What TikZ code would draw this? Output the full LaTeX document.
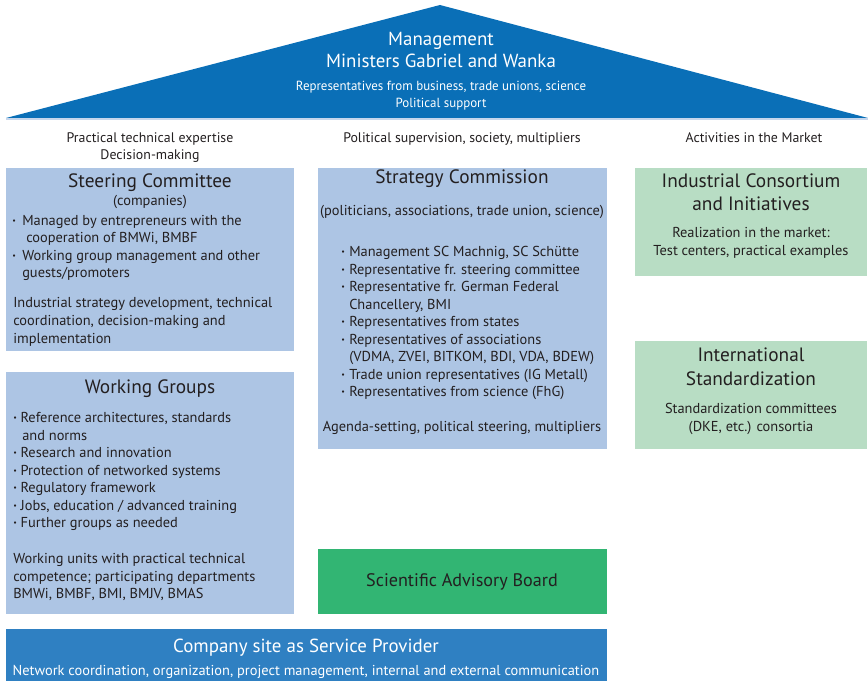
\documentclass[tikz,border=0pt]{standalone}
\usepackage{fontspec}
\setmainfont{PT Sans}
\definecolor{roofblue}{HTML}{0A6FB7}
\definecolor{paleblue}{HTML}{ADC5E4}
\definecolor{palegreen}{HTML}{B8DDC4}
\definecolor{boardgreen}{HTML}{32B573}
\definecolor{baseblue}{HTML}{2F80C2}
\definecolor{ink}{HTML}{231F20}

\newcounter{ln}
% one text line: style, x, y, content
\newcommand\tline[4]{\stepcounter{ln}\node[#1] (t\theln) at (#2,#3) {#4};}
% bullet mark in a box of the given width
\newcommand\bul[1]{\makebox[#1][l]{\raisebox{0.25ex}{\scalebox{0.55}{•}}}}

\begin{document}
\begin{tikzpicture}[x=0.75pt,y=-0.75pt,
  body/.style={anchor=mid west,inner sep=0,yshift=-1.5pt,text=ink,font=\fontsize{10.8}{13}\selectfont},
  bodyc/.style={body,anchor=mid},
  small/.style={bodyc,font=\fontsize{9.9}{12}\selectfont},
  head/.style={bodyc,font=\fontsize{10.4}{12}\selectfont},
  title/.style={bodyc,font=\fontsize{14.5}{17}\selectfont},
  white/.style={text=white}]
\useasboundingbox (0,0) rectangle (868,681);

% roof
\fill[roofblue] (6,118) -- (440,5) -- (868,118) -- cycle;
\fill[paleblue!70] (6,118) rectangle (868,120);
\tline{title,white,font=\fontsize{14.2}{17}\selectfont}{441}{40}{Management}
\tline{title,white,font=\fontsize{14.2}{17}\selectfont}{441}{62}{Ministers Gabriel and Wanka}
\tline{small,white}{441}{85}{\scalebox{0.98}[1]{Representatives from business, trade unions, science}}
\tline{small,white}{441}{102}{\scalebox{0.98}[1]{Political support}}

% column headings
\tline{head}{150}{137}{Practical technical expertise}
\tline{head}{150}{154}{Decision-making}
\tline{head}{462}{137}{Political supervision, society, multipliers}
\tline{head}{754}{137}{Activities in the Market}

% panels
\fill[paleblue] (6,168) rectangle (294,351);
\fill[paleblue] (6,372) rectangle (294,614);
\fill[paleblue] (318,168) rectangle (607,449);
\fill[palegreen] (635,168) rectangle (867,276);
\fill[palegreen] (635,341) rectangle (867,449);
\fill[boardgreen] (318,549) rectangle (607,614);
\fill[baseblue] (6,629) rectangle (607,681);

% steering committee
\tline{title}{150}{182}{Steering Committee}
\tline{bodyc}{150}{200}{(companies)}
\tline{body}{12}{220}{\bul{7.5pt}Managed by entrepreneurs with the}
\tline{body}{26}{237}{cooperation of BMWi, BMBF}
\tline{body}{12}{255}{\bul{7.5pt}Working group management and other}
\tline{body}{22}{272}{guests/promoters}
\tline{body}{13}{302}{Industrial strategy development, technical}
\tline{body}{13}{320}{coordination, decision-making and}
\tline{body}{13}{338}{implementation}

% working groups
\tline{title}{150}{388}{Working Groups}
\tline{body}{13}{417}{\bul{5.5pt}Reference architectures, standards}
\tline{body}{22}{435}{and norms}
\tline{body}{13}{452}{\bul{5.5pt}Research and innovation}
\tline{body}{13}{470}{\bul{5.5pt}Protection of networked systems}
\tline{body}{13}{487}{\bul{5.5pt}Regulatory framework}
\tline{body}{13}{505}{\bul{5.5pt}Jobs, education / advanced training}
\tline{body}{13}{522}{\bul{5.5pt}Further groups as needed}
\tline{body}{13}{558}{Working units with practical technical}
\tline{body}{13}{576}{competence; participating departments}
\tline{body}{13}{593}{BMWi, BMBF, BMI, BMJV, BMAS}

% strategy commission
\tline{title}{462}{178}{Strategy Commission}
\tline{bodyc}{462}{210}{(politicians, associations, trade union, science)}
\tline{body}{341}{251}{\bul{6pt}Management SC Machnig, SC Schütte}
\tline{body}{341}{269}{\bul{6pt}Representative fr. steering committee}
\tline{body}{341}{286}{\bul{6pt}Representative fr. German Federal}
\tline{body}{349}{304}{Chancellery, BMI}
\tline{body}{341}{321}{\bul{6pt}Representatives from states}
\tline{body}{341}{339}{\bul{6pt}Representatives of associations}
\tline{body}{349}{356}{(VDMA, ZVEI, BITKOM, BDI, VDA, BDEW)}
\tline{body}{341}{374}{\bul{6pt}Trade union representatives (IG Metall)}
\tline{body}{341}{391}{\bul{6pt}Representatives from science (FhG)}
\tline{bodyc}{462}{426}{Agenda-setting, political steering, multipliers}

% market column
\tline{title}{751}{182}{Industrial Consortium}
\tline{title}{751}{205}{and Initiatives}
\tline{bodyc}{751}{232}{Realization in the market:}
\tline{bodyc}{751}{250}{Test centers, practical examples}
\tline{title}{751}{356}{International}
\tline{title}{751}{380}{Standardization}
\tline{bodyc}{751}{408}{Standardization committees}
\tline{bodyc}{751}{426}{(DKE, etc.) consortia}

% advisory board and service provider
\tline{title,font=\fontsize{13.6}{16}\selectfont}{462}{581}{Scientific Advisory Board}
\tline{title,white,font=\fontsize{14.2}{17}\selectfont}{306}{647}{Company site as Service Provider}
\tline{bodyc,white}{306}{670}{Network coordination, organization, project management, internal and external communication}
\end{tikzpicture}
\end{document}
